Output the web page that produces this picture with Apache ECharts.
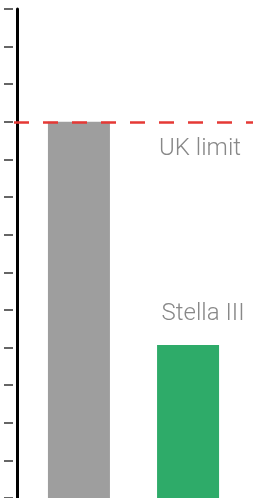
<!DOCTYPE html>
<html>
<head>
<meta charset="utf-8">
<style>
  html, body { margin: 0; padding: 0; background: #fff; }
  #chart { width: 253px; height: 498px; }
</style>
<script src="https://cdn.jsdelivr.net/npm/echarts@6/dist/echarts.min.js"></script>
</head>
<body>
<div id="chart"></div>
<script>
  // data
  var names = ['UK limit', 'Stella III'];
  var values = [10, 4.07];
  var limit = 10;
  var yMin = 0;
  var yMax = 13;
  var yStep = 1;
  var colors = ['#9e9e9e', '#2eab69'];

  var chart = echarts.init(document.getElementById('chart'));

  var labelStyle = {
    color: '#888',
    fontFamily: 'Roboto',
    fontWeight: 300,
    fontSize: 24
  };

  chart.setOption({
    animation: false,
    grid: { left: 14, right: 0, top: 9, bottom: 0 },
    xAxis: {
      type: 'category',
      data: [''],
      show: false
    },
    yAxis: [{
      // the axis line
      type: 'value',
      position: 'left',
      min: yMin, max: yMax, interval: yStep,
      offset: -3.5,
      axisLine: { show: true, lineStyle: { color: '#000', width: 3 } },
      axisTick: { show: false },
      axisLabel: { show: false },
      splitLine: { show: false }
    }, {
      // ticks, drawn a bit off the line
      type: 'value',
      position: 'left',
      min: yMin, max: yMax, interval: yStep,
      offset: 1,
      axisLine: { show: false },
      axisTick: { show: true, length: 9, lineStyle: { color: '#333', width: 1.5 } },
      axisLabel: { show: false },
      splitLine: { show: false }
    }],
    series: [{
      name: names[0],
      type: 'bar',
      barWidth: 62,
      barGap: '76%',
      itemStyle: { color: colors[0] },
      data: [values[0]],
      markLine: {
        silent: true,
        symbol: 'none',
        lineStyle: { color: '#e53935', width: 2.5, type: [15, 14] },
        label: Object.assign({
          show: true,
          position: 'insideEndBottom',
          distance: [12, 15],
          formatter: names[0]
        }, labelStyle),
        emphasis: { disabled: true },
        data: [{ yAxis: limit }]
      }
    }, {
      name: names[1],
      type: 'bar',
      barWidth: 62,
      itemStyle: { color: colors[1] },
      label: Object.assign({
        show: true,
        position: 'top',
        offset: [15, -14],
        formatter: '{a}'
      }, labelStyle),
      data: [values[1]]
    }]
  });
</script>
</body>
</html>
